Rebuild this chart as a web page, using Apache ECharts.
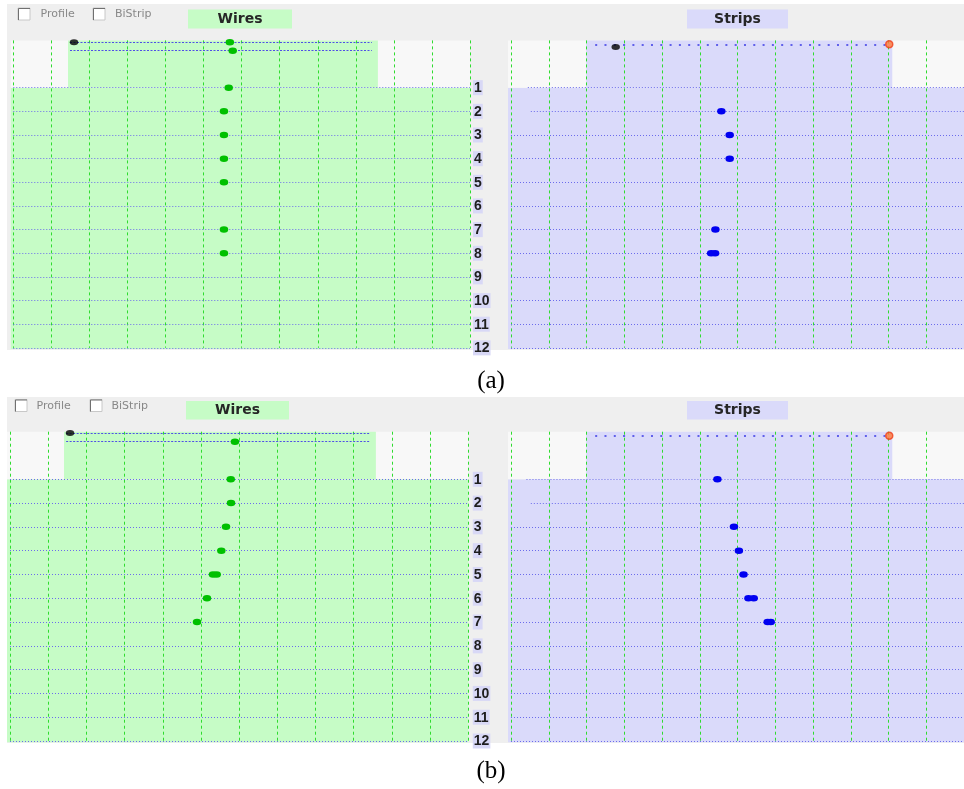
<!DOCTYPE html>
<html><head><meta charset="utf-8">
<script src="https://cdn.jsdelivr.net/npm/echarts@6/dist/echarts.min.js"></script>
<style>html,body{margin:0;padding:0;background:#fff}#c{width:964px;height:789px}</style>
</head><body><div id="c"></div>
<script>
// ---------- data (x in detector grid units 0..12, y in plane rows) ----------
const rowNumbers = [1, 2, 3, 4, 5, 6, 7, 8, 9, 10, 11, 12];

// (a) Wires
const aWiresHitRow = [1, 2, 3, 4, 5, 7, 8];
const aWiresHitPos = [5.66, 5.535, 5.535, 5.535, 5.535, 5.535, 5.535];
const aWiresTrackRow = [-0.92, -0.565];
const aWiresTrackHitRow = [-0.92, -0.565];
const aWiresTrackHitPos = [5.69, 5.765];
const aWiresTrackSpan = [1.49, 9.42];
const aWiresMarkerRow = [-0.92];
const aWiresMarkerPos = [1.595];
const aWiresActive = [1.437, 9.58];

// (a) Strips
const aStripsHitRow = [2, 3, 4, 7, 8, 8];
const aStripsHitPos = [5.572, 5.793, 5.793, 5.415, 5.302, 5.407];
const aStripsTrackRow = [-0.835];
const aStripsTrackSpan = [2.23, 9.95];
const aStripsMarkerRow = [-0.72];
const aStripsMarkerPos = [2.774];
const aStripsEndRow = [-0.835];
const aStripsEndPos = [10.02];
const aStripsActive = [1.99, 10.1];
const aStripsShortRow = [1, 2];
const aStripsShortStart = [0.446, 0.525];

// (b) Wires
const bWiresHitRow = [1, 2, 3, 4, 5, 5, 6, 7];
const bWiresHitPos = [5.78, 5.787, 5.656, 5.533, 5.315, 5.412, 5.158, 4.897];
const bWiresTrackRow = [-0.93, -0.58];
const bWiresTrackHitRow = [-0.58];
const bWiresTrackHitPos = [5.89];
const bWiresTrackSpan = [1.47, 9.43];
const bWiresMarkerRow = [-0.946];
const bWiresMarkerPos = [1.571];
const bWiresActive = [1.414, 9.58];

// (b) Strips
const bStripsHitRow = [1, 3, 4, 5, 6, 6, 7, 7];
const bStripsHitPos = [5.467, 5.906, 6.037, 6.16, 6.29, 6.43, 6.80, 6.88];
const bStripsTrackRow = [-0.83];
const bStripsTrackSpan = [2.23, 9.95];
const bStripsEndRow = [-0.83];
const bStripsEndPos = [10.02];
const bStripsActive = [1.99, 10.1];
const bStripsShortRow = [1, 2];
const bStripsShortStart = [0.41, 0.525];

// ---------- build ----------
const zip = (xs, ys) => xs.map((x, i) => [x, ys[i]]);
const GREEN = '#c6fcc6', LAV = '#dadafa', PLOTWHITE = '#f8f8f8', PANEL = '#efefef';

const panels = [
  { grid: { left: 13.3, top: 40.4, width: 456.7, height: 307.45 }, fill: GREEN, dot: '#00c000', labels: true, labelMargin: 3, padLeft: 2.5,
    hits: zip(aWiresHitPos, aWiresHitRow).concat(zip(aWiresTrackHitPos, aWiresTrackHitRow)),
    tracks: aWiresTrackRow, span: aWiresTrackSpan, trackStyle: 'wire',
    markers: zip(aWiresMarkerPos, aWiresMarkerRow), ends: [], active: aWiresActive, shortRows: [], shortStart: [] },
  { grid: { left: 511, top: 40.4, width: 457.2, height: 307.45 }, fill: LAV, dot: '#0000f0', labels: false, padLeft: 3,
    hits: zip(aStripsHitPos, aStripsHitRow),
    tracks: aStripsTrackRow, span: aStripsTrackSpan, trackStyle: 'strip',
    markers: zip(aStripsMarkerPos, aStripsMarkerRow), ends: zip(aStripsEndPos, aStripsEndRow), active: aStripsActive,
    shortRows: aStripsShortRow, shortStart: aStripsShortStart },
  { grid: { left: 10, top: 431.7, width: 458.3, height: 309.3 }, fill: GREEN, dot: '#00c000', labels: true, labelMargin: 4.5, padLeft: 3,
    hits: zip(bWiresHitPos, bWiresHitRow).concat(zip(bWiresTrackHitPos, bWiresTrackHitRow)),
    tracks: bWiresTrackRow, span: bWiresTrackSpan, trackStyle: 'wire',
    markers: zip(bWiresMarkerPos, bWiresMarkerRow), ends: [], active: bWiresActive, shortRows: [], shortStart: [] },
  { grid: { left: 511, top: 431.7, width: 457.2, height: 309.3 }, fill: LAV, dot: '#0000f0', labels: false, padLeft: 3,
    hits: zip(bStripsHitPos, bStripsHitRow),
    tracks: bStripsTrackRow, span: bStripsTrackSpan, trackStyle: 'strip',
    markers: [], ends: zip(bStripsEndPos, bStripsEndRow), active: bStripsActive,
    shortRows: bStripsShortRow, shortStart: bStripsShortStart }
];

const rowLine = { color: '#6c6cec', width: 1, type: [1, 2] };
const grids = [], xAxes = [], yAxes = [], series = [];

panels.forEach((p, i) => {
  grids.push(Object.assign({ containLabel: false, show: false }, p.grid));
  xAxes.push({ gridIndex: i, type: 'value', min: 0, max: 12, interval: 1, z: 2,
    axisLine: { show: false }, axisTick: { show: false }, axisLabel: { show: false },
    splitLine: { show: true, lineStyle: { color: '#2fdc2f', width: 1, type: [3, 3] } } });
  yAxes.push({ gridIndex: i, type: 'value', inverse: true, min: -1, max: 12, interval: 1, position: 'right', z: 2,
    axisLine: { show: false }, axisTick: { show: false }, splitLine: { show: false },
    axisLabel: { show: p.labels, margin: p.labelMargin || 3, align: 'left',
      formatter: v => (rowNumbers.indexOf(v) >= 0 ? '{b|' + v + '}' : ''),
      rich: { b: { backgroundColor: '#d8d8f6', color: '#1e1e1e', fontWeight: 'bold', fontSize: 14,
        fontFamily: 'Liberation Sans', padding: [1, 1, 0, 1], lineHeight: 15 } } } });

  // background fills
  const bgData = [
    [0, 12, 1, 12, 0],
    [0, 12, -1, 1, 1],
    [p.active[0], p.active[1], -1, 1, 0]
  ];
  series.push({ type: 'custom', xAxisIndex: i, yAxisIndex: i, z: 1, silent: true, clip: false,
    encode: { x: [0, 1], y: [2, 3] }, data: bgData,
    renderItem: (params, api) => {
      const a = api.coord([api.value(0), api.value(2)]);
      const b = api.coord([api.value(1), api.value(3)]);
      let x0 = a[0];
      if (api.value(0) === 0) x0 -= p.padLeft;
      let y1 = b[1];
      if (api.value(3) === 12) y1 += 1.2;
      return { type: 'rect', shape: { x: x0, y: a[1], width: b[0] - x0, height: y1 - a[1] },
        style: { fill: api.value(4) === 0 ? p.fill : PLOTWHITE } };
    } });

  // row lines + track lines
  const ml = [];
  rowNumbers.forEach(r => {
    const k = p.shortRows.indexOf(r);
    if (k >= 0) ml.push([{ coord: [p.shortStart[k], r] }, { coord: [12, r] }]);
    else ml.push({ yAxis: r });
  });
  p.tracks.forEach(r => {
    const style = p.trackStyle === 'wire'
      ? { color: '#4f4fe6', width: 1, type: [2, 1.5] }
      : { color: '#6060ea', width: 2, type: [2, 7.3] };
    ml.push([{ coord: [p.span[0], r], lineStyle: style }, { coord: [p.span[1], r] }]);
  });
  series.push({ type: 'line', xAxisIndex: i, yAxisIndex: i, data: [], z: 3, silent: true,
    markLine: { silent: true, symbol: ['none', 'none'], label: { show: false }, animation: false,
      lineStyle: rowLine, emphasis: { disabled: true }, data: ml } });

  // hits
  series.push({ type: 'scatter', xAxisIndex: i, yAxisIndex: i, z: 5, silent: true,
    symbol: 'circle', symbolSize: [8.5, 6.5], itemStyle: { color: p.dot, opacity: 1 }, data: p.hits });
  if (p.markers.length) series.push({ type: 'scatter', xAxisIndex: i, yAxisIndex: i, z: 6, silent: true,
    symbol: 'circle', symbolSize: [8.5, 6], itemStyle: { color: '#000' }, data: p.markers });
  if (p.ends.length) series.push({ type: 'scatter', xAxisIndex: i, yAxisIndex: i, z: 6, silent: true,
    symbol: 'circle', symbolSize: 7, itemStyle: { color: '#ff7a3a', borderColor: '#f0401a', borderWidth: 1.5 }, data: p.ends });
});

// ---------- static GUI decoration ----------
function checkbox(x, y, label, lx) {
  return [
    { type: 'rect', shape: { x: x, y: y, width: 12, height: 12 }, style: { fill: '#ffffff', stroke: '#c8c8c8', lineWidth: 1 }, z: 10 },
    { type: 'polyline', shape: { points: [[x + 0.5, y + 12], [x + 0.5, y + 0.5], [x + 12, y + 0.5]] }, style: { stroke: '#707070', lineWidth: 1, fill: null }, z: 11 },
    { type: 'text', x: lx, y: y + 6.5, style: { text: label, fill: '#888888', font: '11px "DejaVu Sans"', textVerticalAlign: 'middle', verticalAlign: 'middle' }, z: 11 }
  ];
}
function titleBox(x, y, w, h, color, label) {
  return [
    { type: 'rect', shape: { x: x, y: y, width: w, height: h }, style: { fill: color }, z: 10 },
    { type: 'text', x: x + w / 2, y: y + h / 2 + 0.5, style: { text: label, fill: '#262626', font: 'bold 14px "DejaVu Sans"', align: 'center', verticalAlign: 'middle', textAlign: 'center', textVerticalAlign: 'middle' }, z: 11 }
  ];
}
const graphic = [
  { type: 'rect', shape: { x: 7, y: 4, width: 957, height: 346 }, style: { fill: PANEL }, z: -5 },
  { type: 'rect', shape: { x: 7, y: 397, width: 957, height: 346 }, style: { fill: PANEL }, z: -5 }
].concat(
  checkbox(18, 8, 'Profile', 40.5), checkbox(93, 8, 'BiStrip', 115),
  checkbox(15, 399.5, 'Profile', 36.5), checkbox(90, 399.5, 'BiStrip', 111.5),
  titleBox(188, 9.5, 104, 19, GREEN, 'Wires'), titleBox(687, 9.5, 101, 19, LAV, 'Strips'),
  titleBox(186, 401, 103, 18.5, GREEN, 'Wires'), titleBox(687, 401, 101, 18.5, LAV, 'Strips'),
  [
    { type: 'text', x: 491, y: 381.5, style: { text: '(a)', fill: '#000', font: '25px "Liberation Serif"', align: 'center', verticalAlign: 'middle', textAlign: 'center', textVerticalAlign: 'middle' }, z: 11 },
    { type: 'text', x: 491, y: 771.5, style: { text: '(b)', fill: '#000', font: '25px "Liberation Serif"', align: 'center', verticalAlign: 'middle', textAlign: 'center', textVerticalAlign: 'middle' }, z: 11 }
  ]
);

const chart = echarts.init(document.getElementById('c'), null, { renderer: 'canvas' });
chart.setOption({
  animation: false,
  backgroundColor: '#ffffff',
  textStyle: { fontFamily: 'DejaVu Sans' },
  grid: grids, xAxis: xAxes, yAxis: yAxes, series: series,
  graphic: { elements: graphic }
});
</script></body></html>
